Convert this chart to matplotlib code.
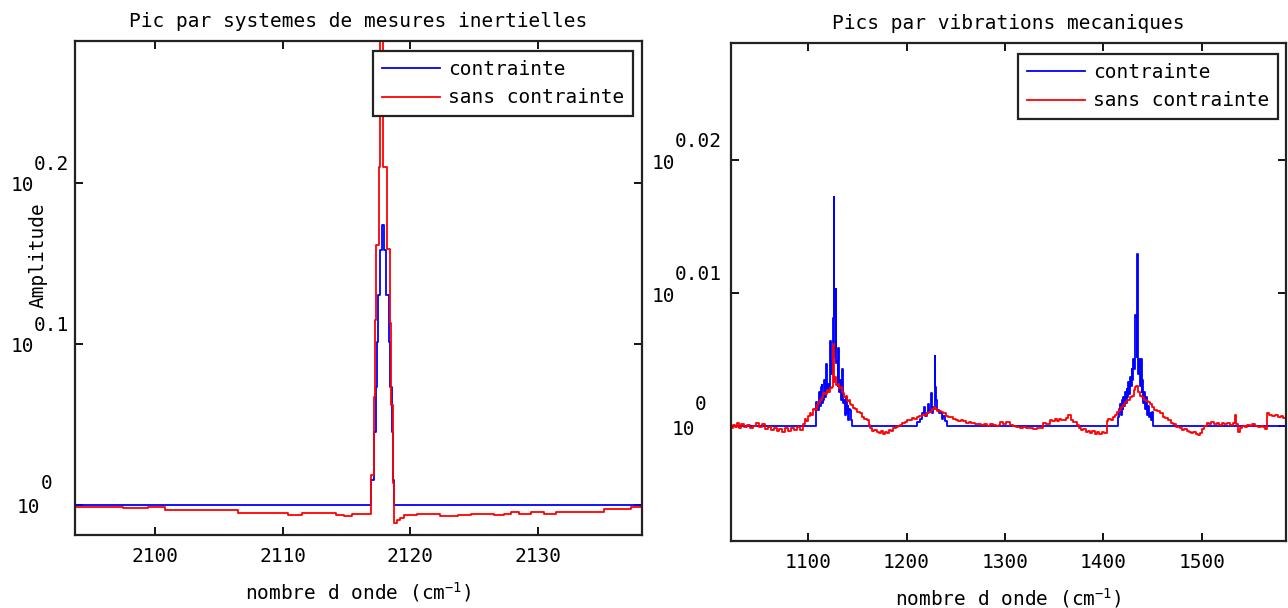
import matplotlib
matplotlib.use('Agg')
import matplotlib.pyplot as plt
from matplotlib.ticker import NullLocator

plt.rcParams['font.family'] = ['DejaVu Sans Mono']
plt.rcParams['mathtext.fontset'] = 'custom'
plt.rcParams['mathtext.rm'] = 'DejaVu Sans Mono'
plt.rcParams['mathtext.it'] = 'DejaVu Sans Mono'
plt.rcParams['mathtext.bf'] = 'DejaVu Sans Mono'
FS = 14

# ---------------- data: left panel (step edges, amplitude) ----------------
left_title = "Pic par systemes de mesures inertielles"
right_title = "Pics par vibrations mecaniques"
series_names = ["contrainte", "sans contrainte"]
xlabel_text = r"nombre d onde (cm$^{-1}$)"
ylabel_text = "Amplitude"

left_xticks = [2100, 2110, 2120, 2130]
left_yexp = ["0", "0.1", "0.2"]
left_yticks = [1.0, 1.2589, 1.5849]

left_blue_x = [2093.7, 2116.93, 2117.14, 2117.30, 2117.38, 2117.51, 2117.66, 2117.82,
               2117.95, 2118.13, 2118.34, 2118.45, 2118.58, 2118.66, 2118.76, 2138.3]
left_blue_y = [1.0, 1.0363, 1.1103, 1.1844, 1.2629, 1.3499, 1.4401, 1.4928,
               1.4401, 1.3499, 1.2629, 1.1844, 1.1103, 1.0363, 1.0, 1.0]

left_red_x = [2093.7, 2097.48, 2099.44, 2100.26, 2100.75, 2106.47, 2110.39, 2111.54,
              2114.15, 2114.80, 2115.46, 2116.93, 2117.14, 2117.22, 2117.35, 2117.54,
              2117.66, 2117.87, 2118.19, 2118.39, 2118.53, 2118.66, 2118.76, 2119.00,
              2119.22, 2119.54, 2120.03, 2120.52, 2121.50, 2122.32, 2122.97, 2123.79,
              2124.77, 2126.57, 2127.39, 2127.88, 2128.53, 2129.51, 2130.49, 2131.47,
              2135.23, 2137.35, 2138.3]
left_red_y = [0.9977, 0.9954, 0.9977, 0.9966, 0.9924, 0.9890, 0.9863, 0.9886,
              0.9863, 0.9840, 0.9867, 1.0438, 1.1676, 1.3032, 1.4505, 1.6218,
              2.05, 1.6218, 1.4421, 1.2972, 1.1535, 1.0316, 0.9750, 0.9784,
              0.9822, 0.9851, 0.9858, 0.9876, 0.9867, 0.9849, 0.9840, 0.9863,
              0.9876, 0.9858, 0.9876, 0.9895, 0.9876, 0.9895, 0.9876, 0.9899,
              0.9940, 0.9977, 0.9977]

# ---------------- data: right panel ----------------
right_xticks = [1100, 1200, 1300, 1400, 1500]
right_yexp = ["0", "0.01", "0.02"]
right_yticks = [1.0, 1.0233, 1.0471]

right_blue_x = [1021.8,
    1108.1, 1109.5, 1110.8, 1111.8, 1112.9, 1113.9, 1114.7, 1115.5, 1116.5, 1117.3,
    1118.2, 1119.0, 1120.0, 1121.0, 1122.3, 1123.0, 1124.0, 1124.8, 1125.7, 1126.2,
    1126.8, 1127.4, 1128.1, 1128.6, 1129.1, 1130.0, 1130.7, 1131.5, 1132.5, 1133.5,
    1134.8, 1135.6, 1136.5, 1137.5, 1138.3, 1139.3, 1140.2, 1140.9, 1141.8, 1142.6,
    1143.5, 1144.3,
    1210.3, 1213.7, 1215.4, 1217.7, 1219.0, 1220.5, 1222.1, 1223.0, 1223.8, 1224.8,
    1225.5, 1226.2, 1227.2, 1228.6, 1229.3, 1229.9, 1231.3, 1233.3, 1235.7, 1237.3,
    1239.0, 1240.8,
    1415.0, 1416.0, 1416.7, 1417.6, 1418.4, 1419.3, 1420.1, 1421.0, 1421.8, 1422.7,
    1423.5, 1424.3, 1425.1, 1426.0, 1426.8, 1427.7, 1428.5, 1429.4, 1430.2, 1431.0,
    1431.6, 1432.1, 1432.6, 1433.6, 1434.0, 1434.6, 1435.0, 1436.3, 1437.0, 1437.7,
    1438.8, 1439.6, 1440.4, 1441.2, 1442.1, 1443.0, 1443.8, 1444.6, 1445.5, 1446.3,
    1447.2, 1448.0, 1448.9, 1449.8, 1450.6,
    1585.5]
right_blue_y = [1.0,
    1.0042, 1.0028, 1.0060, 1.0035, 1.0068, 1.0071, 1.0040, 1.0045, 1.0080, 1.0050,
    1.0109, 1.0060, 1.0074, 1.0065, 1.0149, 1.0090, 1.0114, 1.0100, 1.0189, 1.0404,
    1.0120, 1.0137, 1.0241, 1.0110, 1.0114, 1.0070, 1.0137, 1.0060, 1.0080, 1.0045,
    1.0100, 1.0040, 1.0045, 1.0020, 1.0050, 1.0022, 1.0035, 1.0010, 1.0030, 1.0028,
    1.0010, 1.0,
    1.0007, 1.0012, 1.0022, 1.0033, 1.0018, 1.0022, 1.0039, 1.0025, 1.0028, 1.0057,
    1.0030, 1.0022, 1.0033, 1.0123, 1.0068, 1.0045, 1.0028, 1.0022, 1.0013, 1.0018,
    1.0008, 1.0,
    1.0016, 1.0030, 1.0039, 1.0020, 1.0045, 1.0030, 1.0050, 1.0035, 1.0059, 1.0040,
    1.0065, 1.0050, 1.0077, 1.0055, 1.0085, 1.0070, 1.0100, 1.0080, 1.0117, 1.0100,
    1.0150, 1.0195, 1.0190, 1.0120, 1.0302, 1.0130, 1.0090, 1.0117, 1.0070, 1.0117,
    1.0060, 1.0080, 1.0040, 1.0060, 1.0030, 1.0050, 1.0045, 1.0020, 1.0035, 1.0015,
    1.0022, 1.0010, 1.0025, 1.0005, 1.0,
    1.0]

right_red_x = [
    1021.8, 1024, 1026, 1028, 1030, 1032, 1035, 1038, 1041, 1044, 1047, 1050, 1053,
    1056, 1059, 1062, 1065, 1068, 1071, 1074, 1077, 1080, 1083, 1086, 1089, 1092,
    1094.7, 1096.5, 1098, 1100, 1102, 1103.5, 1105, 1107, 1108.8, 1110.5, 1112, 1114,
    1115.5, 1117, 1119, 1120.5, 1122, 1124, 1125.2, 1126.2, 1127.5, 1128.5, 1130,
    1131.5, 1133, 1134.5, 1135.8, 1137, 1138.5, 1140, 1141.5, 1142.6, 1144, 1146,
    1148, 1150, 1152.8, 1155, 1157, 1159.6, 1161.5, 1163, 1165, 1167, 1169.7, 1172,
    1174, 1176, 1178, 1180, 1182.5, 1184.5, 1186.6, 1189, 1191, 1193.4, 1195.5, 1198,
    1200.2, 1203, 1206, 1208, 1210.3, 1213, 1215.5, 1218, 1220.5, 1222.5, 1224.5,
    1226, 1227.5, 1229, 1231, 1233, 1235, 1237.4, 1240, 1242.5, 1245, 1247.5, 1250,
    1252.5, 1255, 1257.7, 1260, 1263, 1265.5, 1267.8, 1270, 1273, 1276, 1279, 1282,
    1285, 1288, 1291, 1294,
    1294.9, 1298, 1301, 1305, 1308, 1311, 1315.2, 1318, 1321, 1325.4, 1328, 1332.1,
    1335, 1338.9, 1342, 1345.7, 1348, 1350.5, 1352.4, 1355, 1357, 1359.2, 1362,
    1364.2, 1366.5, 1369, 1372.7, 1375, 1377, 1379.5, 1382, 1384, 1386.3, 1388.5,
    1391, 1393.1, 1395.5, 1398, 1400.5, 1403.2, 1405, 1407.5, 1409.5, 1411.7, 1413.5,
    1415.5, 1418, 1420.1, 1422, 1424, 1426.5, 1428.6, 1430.5, 1432.0, 1433.5, 1435,
    1437, 1438.8, 1441, 1443.5, 1445.5, 1447.2, 1449.5, 1451.5, 1454, 1457.4, 1460,
    1462.5, 1465.9, 1468.5, 1471, 1474, 1477.6, 1480, 1482, 1484.5, 1487, 1489,
    1491.2, 1493.5, 1496, 1498, 1500, 1502, 1504.8, 1507, 1509.5, 1512, 1514.9,
    1517.5, 1520, 1522.5, 1525.1, 1528, 1531, 1533.5, 1535, 1536.9, 1538.5, 1541,
    1543.5, 1546, 1548.8, 1551, 1554, 1557, 1560, 1562.3, 1564, 1565.7, 1568, 1571,
    1574, 1577, 1580, 1582.6, 1585.5]
right_red_y = [
    0.9996, 1.0002, 0.9999, 1.0006, 0.9997, 1.0003, 0.9999, 1.0002, 0.9996, 1.0001,
    1.0005, 0.9998, 1.0003, 0.9995, 0.9999, 0.9993, 0.9997, 0.9991, 0.9995, 0.9990,
    0.9996, 0.9992, 0.9997, 0.9993, 0.9998, 0.9994,
    1.0004, 1.0012, 1.0008, 1.0018, 1.0022, 1.0020, 1.0030, 1.0028, 1.0036, 1.0040,
    1.0045, 1.0050, 1.0057, 1.0055, 1.0062, 1.0060, 1.0066, 1.0068, 1.0143, 1.0077,
    1.0085, 1.0072, 1.0074, 1.0066, 1.0068, 1.0060, 1.0057, 1.0050, 1.0052, 1.0044,
    1.0046, 1.0039, 1.0036, 1.0032, 1.0030, 1.0025, 1.0022, 1.0016, 1.0012, 1.0010,
    1.0002, 0.9996, 0.9992, 0.9994, 0.9990, 0.9988, 0.9991, 0.9987, 0.9990, 0.9988,
    0.9993, 0.9991, 0.9996, 0.9998, 1.0000, 1.0002, 1.0005, 1.0007, 1.0010, 1.0011,
    1.0014, 1.0013, 1.0016, 1.0017, 1.0019, 1.0020, 1.0022, 1.0025, 1.0027, 1.0030,
    1.0034, 1.0029, 1.0027, 1.0026, 1.0024, 1.0022, 1.0018, 1.0016, 1.0015, 1.0013,
    1.0010, 1.0009, 1.0010, 1.0008, 1.0006, 1.0007, 1.0005, 1.0005, 1.0003, 1.0004,
    1.0002, 1.0003, 1.0001, 1.0003, 1.0002, 1.0001, 1.0002,
    1.0007, 1.0004, 1.0007, 1.0002, 1.0000, 0.9998, 0.9996, 0.9999, 0.9996, 0.9997,
    0.9995, 0.9997, 0.9996, 1.0005, 1.0003, 1.0010, 1.0008, 1.0012, 1.0009, 1.0013,
    1.0010, 1.0011, 1.0014, 1.0019, 1.0010, 1.0007, 1.0002, 0.9997, 0.9993, 0.9995,
    0.9990, 0.9992, 0.9988, 0.9991, 0.9987, 0.9989, 0.9987, 0.9989, 0.9988, 1.0008,
    1.0013, 1.0011, 1.0016, 1.0019, 1.0024, 1.0028, 1.0033, 1.0036, 1.0042, 1.0045,
    1.0051, 1.0053, 1.0062, 1.0068, 1.0070, 1.0060, 1.0052, 1.0050, 1.0046, 1.0044,
    1.0041, 1.0039, 1.0033, 1.0028, 1.0026, 1.0022, 1.0016, 1.0014, 1.0010, 1.0006,
    1.0003, 0.9999, 0.9996, 0.9993, 0.9995, 0.9991, 0.9990, 0.9988, 0.9990, 0.9986,
    0.9985, 0.9988, 0.9995, 1.0001, 1.0006, 1.0004, 1.0007, 1.0003, 1.0005, 1.0002,
    1.0006, 1.0003, 1.0005, 1.0002, 1.0006, 1.0020, 1.0004, 0.9990, 0.9997, 1.0000,
    0.9998, 1.0002, 1.0000, 1.0003, 1.0001, 0.9998, 1.0001, 0.9998, 0.9995, 1.0023,
    1.0020, 1.0018, 1.0019, 1.0015, 1.0017, 1.0014, 1.0015]

BLUE = (0, 0, 1)
RED = (1, 0, 0)

W, H = 1288, 608
fig = plt.figure(figsize=(W / 100, H / 100), dpi=100)
fig.patch.set_facecolor('white')


def px_axes(x0, x1, y0, y1):
    return fig.add_axes([x0 / W, (H - y1) / H, (x1 - x0) / W, (y1 - y0) / H])


axL = px_axes(75, 642, 41, 535)
axR = px_axes(731, 1286, 43, 541)


def style(ax, xticks, yticks, yexp, xlim, ylim, title, gaps, rises):
    ax.set_yscale('log')
    ax.set_xlim(*xlim)
    ax.set_ylim(*ylim)
    ax.set_xticks(xticks)
    ax.set_xticklabels([str(t) for t in xticks], fontsize=FS)
    ax.set_yticks(yticks)
    ax.set_yticklabels([''] * len(yticks))
    ax.yaxis.set_minor_locator(NullLocator())
    ax.xaxis.set_minor_locator(NullLocator())
    ax.tick_params(direction='in', length=6, width=1.3, top=True, right=True,
                   pad=9, colors='black')
    for s in ax.spines.values():
        s.set_linewidth(1.6)
        s.set_color('#222222')
    ax.set_title(title, fontsize=FS, pad=10)
    ax.set_xlabel(xlabel_text, fontsize=FS, labelpad=10)
    r = fig.canvas.get_renderer()
    for yt, e, g, rs in zip(yticks, yexp, gaps, rises):
        te = ax.annotate(e, xy=(0, yt), xycoords=ax.get_yaxis_transform(),
                         xytext=(-g, rs), textcoords='offset pixels',
                         ha='right', va='center', fontsize=FS)
        w = te.get_window_extent(r).width
        ax.annotate('10', xy=(0, yt), xycoords=ax.get_yaxis_transform(),
                    xytext=(-g - w, -3), textcoords='offset pixels',
                    ha='right', va='center', fontsize=FS)
    leg = ax.legend(series_names, loc='upper right', fontsize=FS,
                    fancybox=False, edgecolor='#222222', framealpha=1,
                    handlelength=3.0, handletextpad=0.4, borderpad=0.45,
                    labelspacing=0.5, borderaxespad=0)
    leg.get_frame().set_linewidth(1.6)
    return leg


axL.plot(left_blue_x, left_blue_y, color=BLUE, lw=1.3, drawstyle='steps-post')
axL.plot(left_red_x, left_red_y, color=RED, lw=1.3, drawstyle='steps-post')
legL = style(axL, left_xticks, left_yticks, left_yexp, (2093.7, 2138.2),
             (0.958, 1.941), left_title, [23, 6, 6], [21, 18, 18])
legL.set_bbox_to_anchor((0.984, 0.98), transform=axL.transAxes)
axL.set_ylabel(ylabel_text, fontsize=FS)
axL.yaxis.set_label_coords(-0.0476, 0.567)

axR.plot(right_blue_x, right_blue_y, color=BLUE, lw=1.3, drawstyle='steps-post')
axR.plot(right_red_x, right_red_y, color=RED, lw=1.3, drawstyle='steps-post')
legR = style(axR, right_xticks, right_yticks, right_yexp, (1021.8, 1585.3),
             (0.9803, 1.0686), right_title, [24, 9, 9], [22, 19, 19])
legR.set_bbox_to_anchor((0.9856, 0.978), transform=axR.transAxes)

fig.savefig('out.png', dpi=100, facecolor='white')
